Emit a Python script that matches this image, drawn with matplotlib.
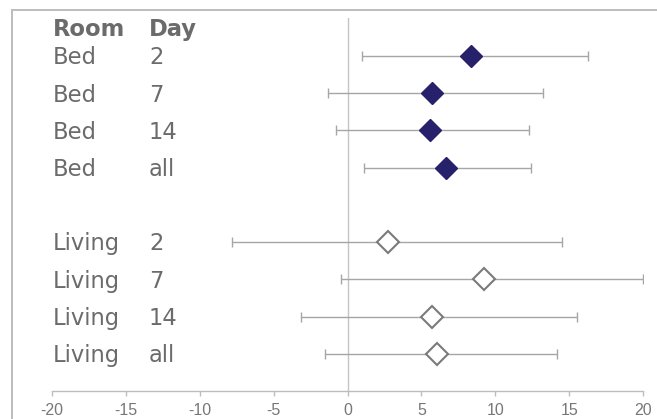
import numpy as np
import matplotlib
matplotlib.use("Agg")
import matplotlib.pyplot as plt
import matplotlib.transforms as mtransforms
from matplotlib.lines import Line2D

# Estimates with confidence limits, by room and day
rooms = ["Bed", "Bed", "Bed", "Bed", "Living", "Living", "Living", "Living"]
days = ["2", "7", "14", "all", "2", "7", "14", "all"]
estimate = [8.35, 5.75, 5.55, 6.65, 2.75, 9.25, 5.75, 6.05]
lower = [0.95, -1.3, -0.8, 1.1, -7.8, -0.45, -3.15, -1.5]
upper = [16.25, 13.25, 12.3, 12.45, 14.55, 20.0, 15.55, 14.15]
row_slot = [0, 1, 2, 3, 5, 6, 7, 8]
xticks = [-20, -15, -10, -5, 0, 5, 10, 15, 20]

W, H = 657, 419
fig = plt.figure(figsize=(W / 100, H / 100), dpi=100, facecolor="white")

# outer frame: only the left and top edges fall inside the image
x0, y0 = 11.5 / W, 1 - 10.5 / H
fig.add_artist(Line2D([x0, x0], [-0.1, y0], transform=fig.transFigure,
                      color="#bdbdbd", linewidth=1.4))
fig.add_artist(Line2D([x0, 1.1], [y0, y0], transform=fig.transFigure,
                      color="#bdbdbd", linewidth=1.4))

ax = fig.add_axes([52 / W, 1 - 391 / H, 591 / W, (391 - 18) / H])
ax.set_facecolor("none")
ax.set_xlim(-20, 20)
ax.set_ylim(9.0, -1.02)

ax.axvline(0, color="#c4c4c4", linewidth=1.0, zorder=1)

est = np.array(estimate)
lo = np.array(lower)
hi = np.array(upper)
y = np.array(row_slot)
ax.errorbar(est, y, xerr=[est - lo, hi - est], fmt="none", ecolor="#a6a6a6",
            elinewidth=1.0, capsize=3.5, capthick=1.0, zorder=2)

bed = np.array([r == "Bed" for r in rooms])
ax.plot(est[bed], y[bed], linestyle="none", marker="D", markersize=11.5,
        markerfacecolor="#27206b", markeredgecolor="#27206b", markeredgewidth=1.0, zorder=3)
ax.plot(est[~bed], y[~bed], linestyle="none", marker="D", markersize=11,
        markerfacecolor="white", markeredgecolor="#7a7a7a", markeredgewidth=1.5, zorder=3)

# row labels sit in figure x, data y
trans = mtransforms.blended_transform_factory(fig.transFigure, ax.transData)
txt = dict(color="#6b6b6b", fontsize=16.3, family="DejaVu Sans", va="center", transform=trans)
ax.text(53 / W, -0.72, "Room", fontweight="bold", **txt)
ax.text(149 / W, -0.72, "Day", fontweight="bold", **txt)
for r, d, s in zip(rooms, days, row_slot):
    ax.text(53 / W, s + 0.05, r, **txt)
    ax.text(149 / W, s + 0.05, d, **txt)

for side in ["left", "right", "top"]:
    ax.spines[side].set_visible(False)
ax.spines["bottom"].set_color("#bdbdbd")
ax.spines["bottom"].set_linewidth(1.0)
ax.set_yticks([])
ax.set_xticks(xticks)
ax.set_xticklabels([str(t) for t in xticks])
ax.tick_params(axis="x", direction="out", length=3.5, width=1.0, color="#bdbdbd",
               labelcolor="#777777", labelsize=11.5, pad=5)
for lab in ax.get_xticklabels():
    lab.set_family("Liberation Sans")

fig.savefig("out.png", dpi=100, facecolor="white")
